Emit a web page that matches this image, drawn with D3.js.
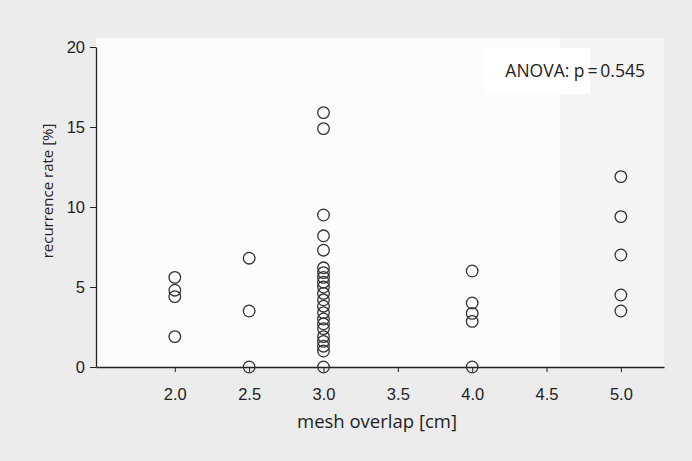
<!DOCTYPE html>
<html>
<head>
<meta charset="utf-8">
<script src="https://cdn.jsdelivr.net/npm/d3@7"></script>
<style>
  body { margin: 0; background: #ececec; }
  svg { display: block; font-family: "Open Sans", sans-serif; }
</style>
</head>
<body>
<svg id="chart" width="692" height="461"></svg>
<script>
// mesh overlap groups and recurrence rates
const overlaps = [2.0, 2.5, 3.0, 4.0, 5.0];
const rates20 = [5.6, 4.8, 4.4, 1.9];
const rates25 = [6.8, 3.5, 0];
const rates30 = [15.9, 14.9, 9.5, 8.2, 7.3, 6.2, 5.9, 5.6, 5.3, 5.0, 4.6, 4.2, 3.8, 3.4, 3.0, 2.7, 2.4, 1.9, 1.6, 1.3, 1.0, 0];
const rates40 = [6.0, 4.0, 3.35, 2.85, 0];
const rates50 = [11.9, 9.4, 7.0, 4.5, 3.5];
const xTicks = [2.0, 2.5, 3.0, 3.5, 4.0, 4.5, 5.0];
const yTicks = [0, 5, 10, 15, 20];
const annotation = "ANOVA: p\u2009=\u20090.545";

const groups = [rates20, rates25, rates30, rates40, rates50];
const points = [];
groups.forEach((g, i) => g.forEach(v => points.push({ x: overlaps[i], y: v })));

const svg = d3.select("#chart");
const plotLeft = 96, plotRight = 664, plotTop = 47, plotBottom = 367;

const x = d3.scaleLinear().domain([1.47, 5.29]).range([plotLeft, plotRight]);
const y = d3.scaleLinear().domain([0, 20]).range([plotBottom, plotTop]);

// paper-ish plot background
svg.append("rect").attr("x", plotLeft).attr("y", 38).attr("width", 464).attr("height", plotBottom - 38).attr("fill", "#fcfcfc");
svg.append("rect").attr("x", 560).attr("y", 38).attr("width", plotRight - 560).attr("height", plotBottom - 38).attr("fill", "#f4f4f4");
svg.append("rect").attr("x", 486).attr("y", 48).attr("width", 104).attr("height", 46).attr("fill", "#ffffff");

const ink = "#222";

const xAxis = svg.append("g")
    .attr("transform", `translate(0,${plotBottom})`)
    .call(d3.axisBottom(x).tickValues(xTicks).tickFormat(d3.format(".1f")).tickSize(5).tickSizeOuter(0).tickPadding(16));
xAxis.select(".domain").attr("stroke", ink).attr("stroke-width", 1.3);
xAxis.selectAll(".tick line").attr("stroke", ink);
xAxis.selectAll("text").attr("fill", ink).style("font-size", "16.5px");

const yAxis = svg.append("g")
    .attr("transform", `translate(${plotLeft},0)`)
    .call(d3.axisLeft(y).tickValues(yTicks).tickSize(6).tickSizeOuter(0).tickPadding(5));
yAxis.select(".domain").attr("stroke", ink).attr("stroke-width", 1.3);
yAxis.selectAll(".tick line").attr("stroke", ink);
yAxis.selectAll("text").attr("fill", ink).style("font-size", "16.5px");

svg.append("g")
    .selectAll("circle")
    .data(points)
    .enter()
    .append("circle")
    .attr("cx", d => x(d.x))
    .attr("cy", d => y(d.y))
    .attr("r", 5.8)
    .attr("fill", "none")
    .attr("stroke", "#333")
    .attr("stroke-width", 1.3);

svg.append("text")
    .attr("x", 377)
    .attr("y", 428)
    .attr("text-anchor", "middle")
    .attr("fill", ink)
    .style("font-size", "18.5px")
    .text("mesh overlap [cm]");

svg.append("text")
    .attr("transform", "translate(53,191) rotate(-90)")
    .attr("text-anchor", "middle")
    .attr("fill", ink)
    .style("font-size", "15px")
    .text("recurrence rate [%]");

svg.append("text")
    .attr("x", 645)
    .attr("y", 77)
    .attr("text-anchor", "end")
    .attr("fill", ink)
    .style("font-size", "17.5px")
    .text(annotation);
</script>
</body>
</html>
